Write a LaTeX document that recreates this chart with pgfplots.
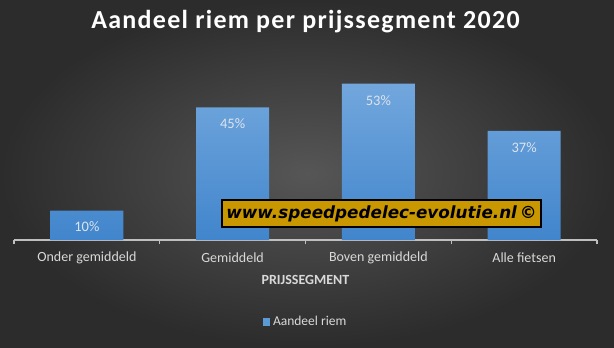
\documentclass[border=0pt]{standalone}
\usepackage{pgfplots}
\pgfplotsset{compat=1.18}
\usepackage{fontspec}
\setmainfont{Carlito}
\newfontfamily\wmfont{DejaVu Sans}
\newfontfamily\titlefont[LetterSpace=5]{Carlito}
\definecolor{bgin}{RGB}{86,86,86}
\definecolor{bgout}{RGB}{44,44,44}
\definecolor{bartop}{RGB}{114,167,221}
\definecolor{barbot}{RGB}{65,133,204}
\definecolor{legblue}{RGB}{91,155,213}
\definecolor{lbl}{RGB}{217,217,217}
\definecolor{vlbl}{RGB}{220,228,238}
\definecolor{wmgold}{RGB}{201,151,0}
\definecolor{axgray}{RGB}{191,191,191}
\begin{document}
\begin{tikzpicture}[x=1bp,y=1bp]
\shade[inner color=bgin, outer color=bgout] (0,0) rectangle (614,347);
\begin{axis}[
  at={(14bp,107bp)}, anchor=south west,
  scale only axis, width=583bp, height=177bp,
  xmin=-0.5, xmax=3.5, ymin=0, ymax=60,
  axis y line=none,
  axis x line*=bottom,
  x axis line style={draw=axgray, line width=1.3bp, -},
  xtick={0,1,2,3},
  xticklabels={Onder gemiddeld, Gemiddeld, Boven gemiddeld, Alle fietsen},
  major x tick style={draw=none},
  major tick length=0pt,
  minor xtick={-0.5,0.5,1.5,2.5,3.5},
  minor tick length=4bp,
  tick align=outside,
  minor x tick style={draw=axgray, line width=1.3bp},
  xticklabel style={text=lbl, font=\fontsize{14bp}{16bp}\selectfont, anchor=center, yshift=-18bp},
  ytick={0,10,...,60},
  ymajorgrids,
  grid style={draw=white, opacity=0.14, line width=0.9bp},
  xlabel={\textbf{PRIJSSEGMENT}},
  xlabel style={at={(axis description cs:0.5,0)}, anchor=center, yshift=-40bp, text=lbl, font=\fontsize{14bp}{16bp}\selectfont},
  title={\bfseries Aandeel riem per prijssegment 2020},
  title style={at={(axis description cs:0.5,1)}, anchor=center, yshift=35bp, text=white, font=\titlefont\fontsize{26bp}{30bp}\selectfont},
  legend style={at={(axis description cs:0.5,-0.463)}, anchor=center, draw=none, fill=none, text=lbl, font=\fontsize{13.5bp}{15bp}\selectfont},
  /pgf/number format/assume math mode=true,
  clip=false,
]
\addplot[forget plot, ybar, bar width=73bp, draw=none, top color=bartop, bottom color=barbot,
  nodes near coords={\pgfmathprintnumber{\pgfplotspointmeta}\%},
  every node near coord/.append style={anchor=center, yshift=-16.5bp, text=vlbl, font=\fontsize{14.5bp}{16bp}\selectfont}]
  coordinates {(0,10) (1,45) (2,53) (3,37)};
\addlegendimage{legend image code/.code={\fill[legblue] (0bp,-3bp) rectangle (6.5bp,3.5bp);}}
\addlegendentry{\hspace{1.5bp}Aandeel riem}
\end{axis}
\node[draw=black, line width=1.5bp, fill=wmgold, minimum width=319bp, minimum height=27bp, inner sep=0pt,
  font=\wmfont\bfseries\itshape\fontsize{16.8bp}{19bp}\selectfont] at (381.5,133.5) {www.speedpedelec-evolutie.nl\,\textcopyright};
\end{tikzpicture}
\end{document}
